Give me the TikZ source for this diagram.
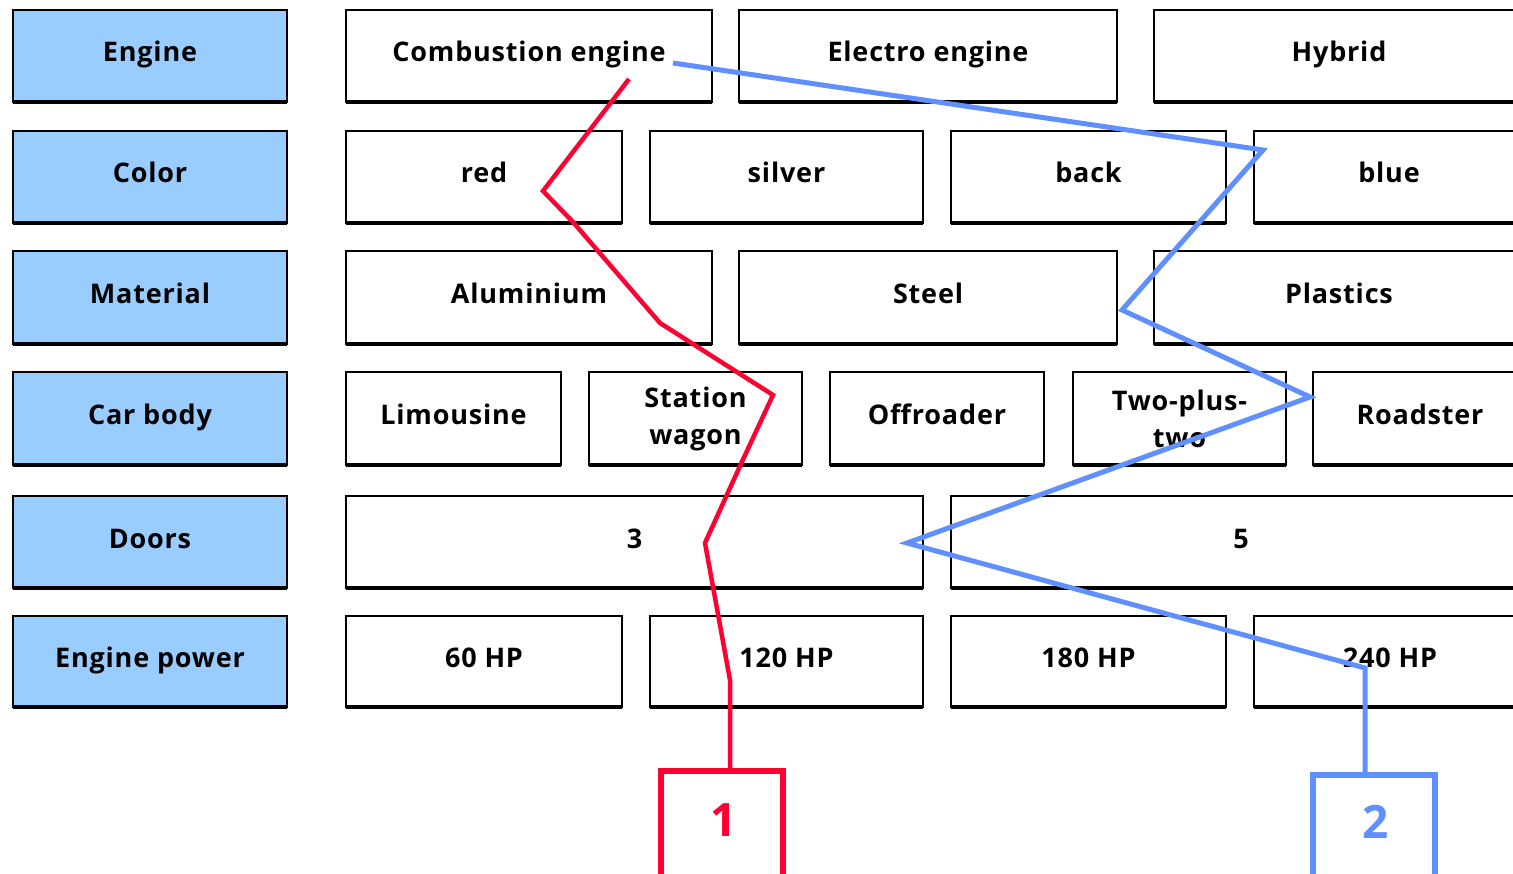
\documentclass[tikz,border=0pt]{standalone}
\usepackage{fontspec}
\setmainfont{Open Sans}
\definecolor{headblue}{HTML}{99CCFF}
\definecolor{myred}{HTML}{FF0033}
\definecolor{myblue}{HTML}{6090FF}
\tikzset{
  x=1pt,y=-1pt,
  cell/.style={draw=black, line width=1.3pt, fill=white, inner sep=0pt, outer sep=0pt,
    anchor=north west, font=\fontsize{27}{37}\selectfont\bfseries\addfontfeatures{LetterSpace=3}, align=center,
    text height=19pt, text depth=7pt},
  twoline/.style={cell, text height=, text depth=},
  head/.style={cell, fill=headblue},
  baseline/.style={draw=black, line width=4pt},
  redpath/.style={draw=myred, line width=4.5pt, line join=miter},
  bluepath/.style={draw=myblue, line width=5pt, line join=miter},
  numbox/.style={line width=6pt, inner sep=0pt, outer sep=0pt, anchor=north west, minimum width=122, minimum height=140},
  numtext/.style={font=\fontsize{46}{46}\selectfont\bfseries}
}
\newcommand\Cell[7][cell]{%
  \node[#1, minimum width={#5-#3}, minimum height={#6-#4}] (#2) at (#3,#4) {#7};
  \draw[baseline] (#2.south west) -- (#2.south east);}
\begin{document}
\begin{tikzpicture}
\useasboundingbox (0,0) rectangle (1513,874);
% headers
\Cell[head]{h1}{13}{10}{287}{102}{Engine}
\Cell[head]{h2}{13}{131}{287}{223}{Color}
\Cell[head]{h3}{13}{251}{287}{344}{Material}
\Cell[head]{h4}{13}{372}{287}{465}{Car body}
\Cell[head]{h5}{13}{496}{287}{588}{Doors}
\Cell[head]{h6}{13}{616}{287}{707}{Engine power}
% row 1
\Cell{e1}{346}{10}{712}{102}{Combustion engine}
\Cell{e2}{739}{10}{1117}{102}{Electro engine}
\Cell{e3}{1154}{10}{1540}{102}{\hspace*{-16pt}Hybrid}
% row 2
\Cell{c1}{346}{131}{622}{223}{red}
\Cell{c2}{650}{131}{923}{223}{silver}
\Cell{c3}{951}{131}{1226}{223}{back}
\Cell{c4}{1254}{131}{1540}{223}{\hspace*{-16pt}blue}
% row 3
\Cell{m1}{346}{251}{712}{344}{Aluminium}
\Cell{m2}{739}{251}{1117}{344}{Steel}
\Cell{m3}{1154}{251}{1540}{344}{\hspace*{-16pt}Plastics}
% row 4
\Cell{k1}{346}{372}{561}{465}{Limousine}
\Cell[twoline]{k2}{589}{372}{802}{465}{Station\\wagon}
\Cell{k3}{830}{372}{1044}{465}{Offroader}
\Cell[twoline]{k4}{1073}{372}{1286}{465}{Two-plus-\\two}
\Cell{k5}{1313}{372}{1540}{465}{\hspace*{-13pt}Roadster}
% row 5
\Cell{d1}{346}{496}{923}{588}{3}
\Cell{d2}{951}{496}{1540}{588}{\hspace*{-9pt}5}
% row 6
\Cell{p1}{346}{616}{622}{707}{60 HP}
\Cell{p2}{650}{616}{923}{707}{120 HP}
\Cell{p3}{951}{616}{1226}{707}{180 HP}
\Cell{p4}{1254}{616}{1540}{707}{\hspace*{-14pt}240 HP}
% result boxes
\node[numbox, draw=myred] (b1) at (661,771) {};
\node[numtext, text=myred] (t1) at (724,820) {1};
\node[numbox, draw=myblue] (b2) at (1313,775) {};
\node[numtext, text=myblue] (t2) at (1376,822) {2};
% red path
\coordinate (r0) at (629,79);
\coordinate (r1) at (543,191);
\coordinate (r2) at (573,222);
\coordinate (r3) at (660,323);
\coordinate (r4) at (773,395);
\coordinate (r5) at (740,466);
\coordinate (r6) at (705,543);
\coordinate (r7) at (730,680);
\draw[redpath] (r0) -- (r1) -- (r2) -- (r3) -- (r4) -- (r5) -- (r6) -- (r7) -- (r7 |- b1.north);
% blue path
\coordinate (u0) at (673,63);
\coordinate (u1) at (1263,150);
\coordinate (u2) at (1122,310);
\coordinate (u3) at (1310,397);
\coordinate (u4) at (907,543);
\coordinate (u5) at (1365,668);
\draw[bluepath] (u0) -- (u1) -- (u2) -- (u3) -- (u4) -- (u5) -- (u5 |- b2.north);
\end{tikzpicture}
\end{document}
